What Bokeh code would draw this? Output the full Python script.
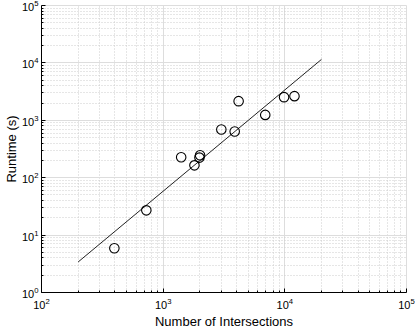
from bokeh.plotting import figure
from bokeh.embed import file_html
from bokeh.resources import INLINE
from bokeh.models import FixedTicker, Range1d

# Data
intersections = [397, 727, 1406, 1807, 1987, 2010, 3006, 3872, 4170, 6902, 9855, 12000]
runtime = [5.9, 27, 227, 164, 224, 246, 691, 637, 2154, 1243, 2530, 2635]
fit_x = [200, 20000]
fit_y = [3.4, 11500]
x_ticks = [1e2, 1e3, 1e4, 1e5]
y_ticks = [1e0, 1e1, 1e2, 1e3, 1e4, 1e5]

p = figure(width=415, height=332, x_axis_type="log", y_axis_type="log",
           x_range=Range1d(1e2, 1e5), y_range=Range1d(1e0, 1e5),
           output_backend="svg", toolbar_location=None,
           min_border_left=40, min_border_right=9, min_border_top=5, min_border_bottom=40)

p.line(fit_x, fit_y, line_color="#222222", line_width=1)
p.scatter(intersections, runtime, marker="circle", size=9.5, fill_color=None,
          line_color="black", line_width=1.1)

p.xaxis.ticker = FixedTicker(ticks=x_ticks, minor_ticks=[m * 10**e for e in range(2, 5) for m in range(2, 10)])
p.yaxis.ticker = FixedTicker(ticks=y_ticks, minor_ticks=[m * 10**e for e in range(0, 5) for m in range(2, 10)])

for ax in (p.xaxis, p.yaxis):
    ax.major_tick_in = 4
    ax.major_tick_out = 0
    ax.minor_tick_in = 2
    ax.minor_tick_out = 0
    ax.axis_line_color = "black"
    ax.major_tick_line_color = "black"
    ax.minor_tick_line_color = "black"
    ax.major_label_text_font = "Liberation Sans"
    ax.major_label_text_font_size = "11px"
    ax.major_label_text_color = "black"
    ax.major_label_standoff = 5
    ax.axis_label_text_font = "Liberation Sans"
    ax.axis_label_text_font_size = "13px"
    ax.axis_label_text_font_style = "normal"
    ax.axis_label_text_color = "black"
    ax.axis_label_standoff = 2

p.yaxis.major_label_standoff = 3
p.yaxis.axis_label_standoff = 0
p.xaxis.axis_label = "Number of Intersections"
p.yaxis.axis_label = "Runtime (s)"

for g in (p.xgrid, p.ygrid):
    g.grid_line_color = "#dddddd"
    g.grid_line_width = 1
    g.minor_grid_line_color = "#cccccc"
    g.minor_grid_line_dash = "1 2"

p.outline_line_color = "#dddddd"
p.background_fill_color = "white"

open("out.html", "w").write(file_html(p, INLINE))
